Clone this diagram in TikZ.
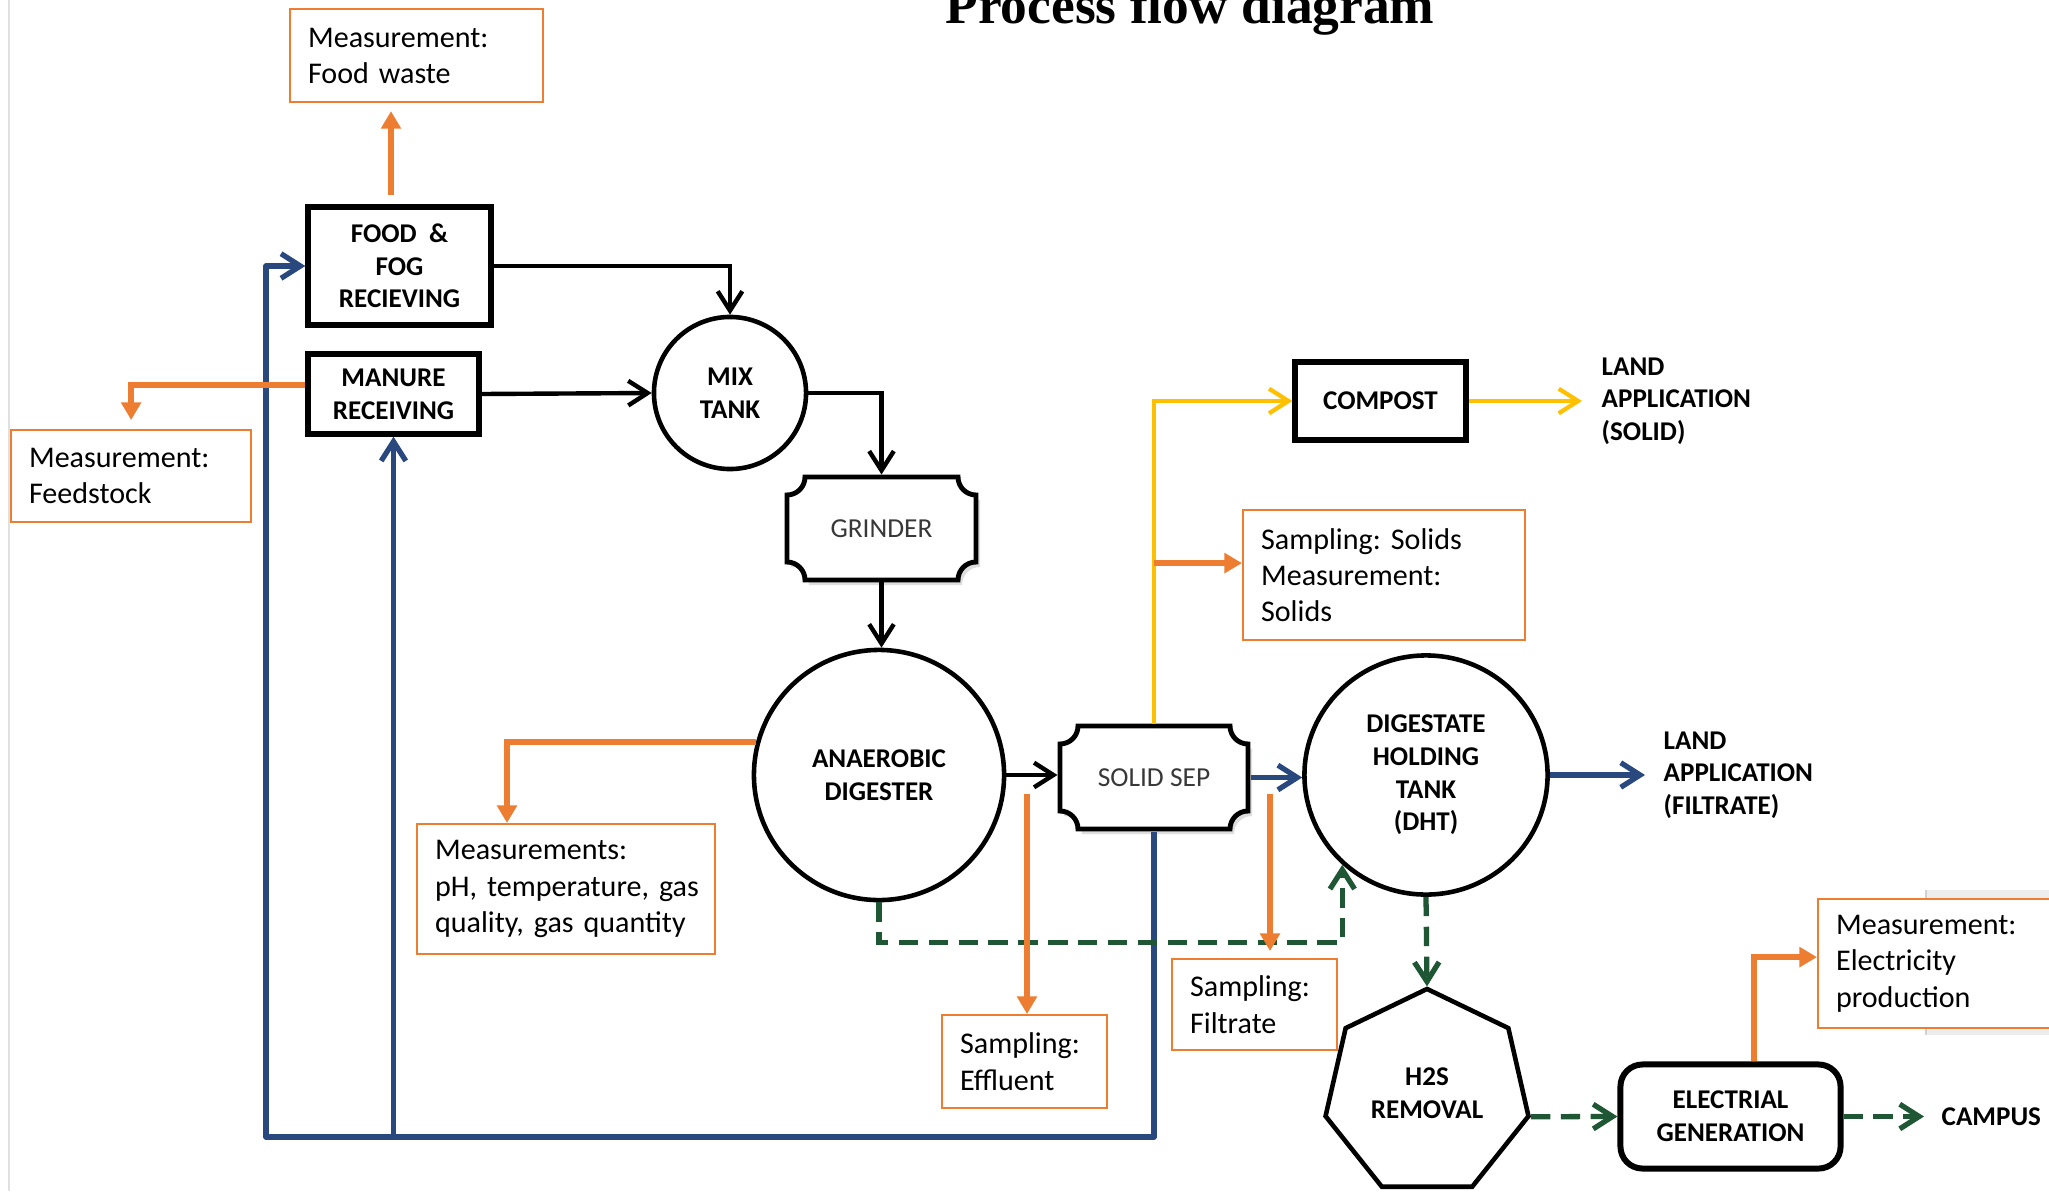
\documentclass[tikz,border=0pt]{standalone}
\usepackage{fontspec}
\setmainfont{Carlito}
\newfontfamily\titlefont{Liberation Serif}
\usetikzlibrary{arrows.meta,calc,shapes.geometric}
\definecolor{corange}{RGB}{237,125,49}
\definecolor{cyellow}{RGB}{255,192,0}
\definecolor{cblue}{RGB}{40,72,126}
\definecolor{cgreen}{RGB}{31,87,52}
\newcommand\capsfont{\fontsize{7.7}{9.3}\selectfont\bfseries}
\newcommand\measfont{\fontsize{8.55}{10.3}\selectfont\frenchspacing}
\newcommand\notchshape[6]{%
  \draw[#1] (#2+#6,#3) -- (#4-#6,#3) arc[start angle=180,end angle=90,radius=#6]
    -- (#4,#5-#6) arc[start angle=270,end angle=180,radius=#6]
    -- (#2+#6,#5) arc[start angle=360,end angle=270,radius=#6]
    -- (#2,#3+#6) arc[start angle=90,end angle=0,radius=#6] -- cycle;}
\begin{document}
\begin{tikzpicture}[x=0.01cm,y=-0.01cm,
  lab/.style={font=\capsfont, align=center, text=black},
  box/.style={lab, draw, line width=1.5pt, rectangle, inner sep=0pt},
  tank/.style={lab, draw, line width=1.3pt, circle, inner sep=0pt},
  plain/.style={lab, anchor=west, align=left, inner sep=0pt},
  meas/.style={draw=corange, line width=0.6pt, fill=white, rectangle, anchor=north west,
    align=left, font=\measfont, inner xsep=0.18cm, inner ysep=0pt},
  barb/.style={-{Straight Barb[length=5.5pt,width=7pt]}},
  blk/.style={barb, line width=1.25pt, draw=black},
  barr/.style={barb, line width=1.5pt, draw=cblue, line join=round},
  yarr/.style={barb, line width=1.2pt, draw=cyellow},
  garr/.style={barb, line width=1.5pt, draw=cgreen, dash pattern=on 5.5pt off 3pt},
  oarr/.style={-{Triangle[length=5pt,width=5.5pt]}, line width=1.5pt, draw=corange}
]
\useasboundingbox (0,0) rectangle (2049,1191);
\fill[white] (0,0) rectangle (2049,1191);
% screenshot edges
\draw[black!12, line width=0.4pt] (9,0) -- (9,1191);
\fill[black!7] (1926,890) rectangle (2060,1035);
\draw[black!18, line width=0.4pt] (1926,890) -- (1926,1035);

% title
\node[font=\titlefont\bfseries\fontsize{15.2}{18}\selectfont, anchor=base, inner sep=0pt] (title) at (1190,24) {Process flow diagram};

% measurement / sampling boxes
\node[meas, minimum width=2.53cm, minimum height=0.93cm, text width=2.17cm] (fw) at (289,8) {\mbox{Measurement:}\\\mbox{Food waste}};
\node[meas, minimum width=2.40cm, minimum height=0.92cm, text width=2.04cm] (feed) at (10,429) {\mbox{Measurement:}\\\mbox{Feedstock}};
\node[meas, minimum width=2.98cm, minimum height=1.30cm, text width=2.62cm] (measad) at (416,823) {\mbox{Measurements:}\\\mbox{pH, temperature, gas}\\\mbox{quality, gas quantity}};
\node[meas, minimum width=2.82cm, minimum height=1.30cm, text width=2.46cm] (solids) at (1242,509) {\mbox{Sampling: Solids}\\\mbox{Measurement:}\\\mbox{Solids}};
\node[meas, minimum width=1.65cm, minimum height=0.93cm, text width=1.29cm] (eff) at (941,1014) {\mbox{Sampling:}\\\mbox{Effluent}};
\node[meas, minimum width=1.65cm, minimum height=0.91cm, text width=1.29cm] (filt) at (1171,958) {\mbox{Sampling:}\\\mbox{Filtrate}};
\node[meas, minimum width=2.60cm, minimum height=1.29cm, text width=2.24cm] (elec) at (1817,898) {\mbox{Measurement:}\\\mbox{Electricity}\\\mbox{production}};

% process units
\node[box, minimum width=1.83cm, minimum height=1.18cm] (food) at (399.5,266) {FOOD~~\&\\FOG\\RECIEVING};
\node[box, minimum width=1.71cm, minimum height=0.80cm] (manure) at (393.5,394) {MANURE\\RECEIVING};
\node[tank, minimum size=1.52cm] (mix) at (730,393) {MIX\\TANK};
\notchshape{fill=black!13, draw=none}{791}{482}{980}{585}{18}
\notchshape{draw, line width=1.4pt, fill=white}{787}{477}{976}{580}{18}
\node[lab, font=\fontsize{7.8}{9.3}\selectfont, text=black!78, rectangle, minimum width=1.89cm, minimum height=1.03cm, inner sep=0pt, outer sep=0.7pt] (grinder) at (881.5,528.5) {GRINDER};
\node[tank, minimum size=2.50cm] (ad) at (879,775) {ANAEROBIC\\DIGESTER};
\notchshape{fill=black!13, draw=none}{1064}{731}{1252}{834}{18}
\notchshape{draw, line width=1.4pt, fill=white}{1060}{726}{1248}{829}{18}
\node[lab, font=\fontsize{7.8}{9.3}\selectfont, text=black!78, rectangle, minimum width=1.88cm, minimum height=1.03cm, inner sep=0pt, outer sep=0.7pt] (solidsep) at (1154,777.5) {SOLID SEP};
\node[lab, ellipse, draw, line width=1.3pt, minimum width=2.43cm, minimum height=2.39cm, inner sep=0pt] (dht) at (1426,775) {DIGESTATE\\HOLDING\\TANK\\(DHT)};
\node[box, minimum width=1.71cm, minimum height=0.78cm] (compost) at (1380.5,401) {COMPOST};
\node[lab, regular polygon, regular polygon sides=7, draw, line width=1.3pt, minimum size=2.08cm, inner sep=0pt] (h2s) at (1427,1093) {H2S\\REMOVAL};
\node[box, rounded corners=0.22cm, line width=1.7pt, minimum width=2.20cm, minimum height=1.04cm] (eg) at (1730.5,1116.5) {ELECTRIAL\\GENERATION};

% plain labels
\node[plain] (landsolid) at (1601,401) {LAND\\APPLICATION\\(SOLID)};
\node[plain] (landfilt) at (1663,775) {LAND\\APPLICATION\\(FILTRATE)};
\node[plain] (campus) at (1941,1116.5) {CAMPUS};

% black process flow
\draw[blk] (food.east) -| (mix.north);
\draw[blk] (manure.east) -- (mix.west);
\draw[blk] (mix.east) -| (grinder.north);
\draw[blk] (grinder.south) -- (grinder.south |- ad.north);
\draw[blk] (ad.east) -- (ad.east -| solidsep.west);

% blue filtrate recirculation
\coordinate (bc) at (266,1137);
\draw[barr] (solidsep.south) |- (bc) |- (food.west);
\draw[barr] (manure.south |- bc) -- (manure.south);
\draw[barr] (solidsep.east) -- (solidsep.east -| dht.west);
\draw[barr] (dht.east) -- ([xshift=-0.18cm]landfilt.west);

% yellow solids
\draw[yarr] (solidsep.north) |- (compost.west);
\draw[yarr] (compost.east) -- ([xshift=-0.19cm]landsolid.west);

% green biogas
\draw[garr] (ad.south) -- ++(0,40) -| (dht.227);
\draw[garr] (dht.south) -- (h2s.corner 1);
\draw[garr] (h2s.corner 6) -- (eg.west);
\draw[garr] (eg.east) -- ([xshift=-0.17cm]campus.west);

% orange measurements
\draw[oarr] ([xshift=-0.085cm,yshift=0.09cm]food.north) -- ([xshift=-0.085cm,yshift=-0.08cm]food.north |- fw.south);
\draw[oarr] ([yshift=0.09cm]manure.west) -| ([yshift=0.09cm]feed.north);
\draw[oarr] (ad.165) -| ($(measad.north west)+(91,0)$);
\coordinate (effs) at (1027,794);
\draw[oarr] (effs) -- (effs |- eff.north);
\coordinate (filts) at (1270,794);
\draw[oarr] (filts) -- ([yshift=0.07cm]filts |- filt.north);
\draw[oarr] ([yshift=0.12cm]solids.west -| solidsep.north) -- ([yshift=0.12cm]solids.west);
\draw[oarr] ([xshift=0.235cm]eg.north) |- ([yshift=0.065cm]elec.west);
\end{tikzpicture}
\end{document}
